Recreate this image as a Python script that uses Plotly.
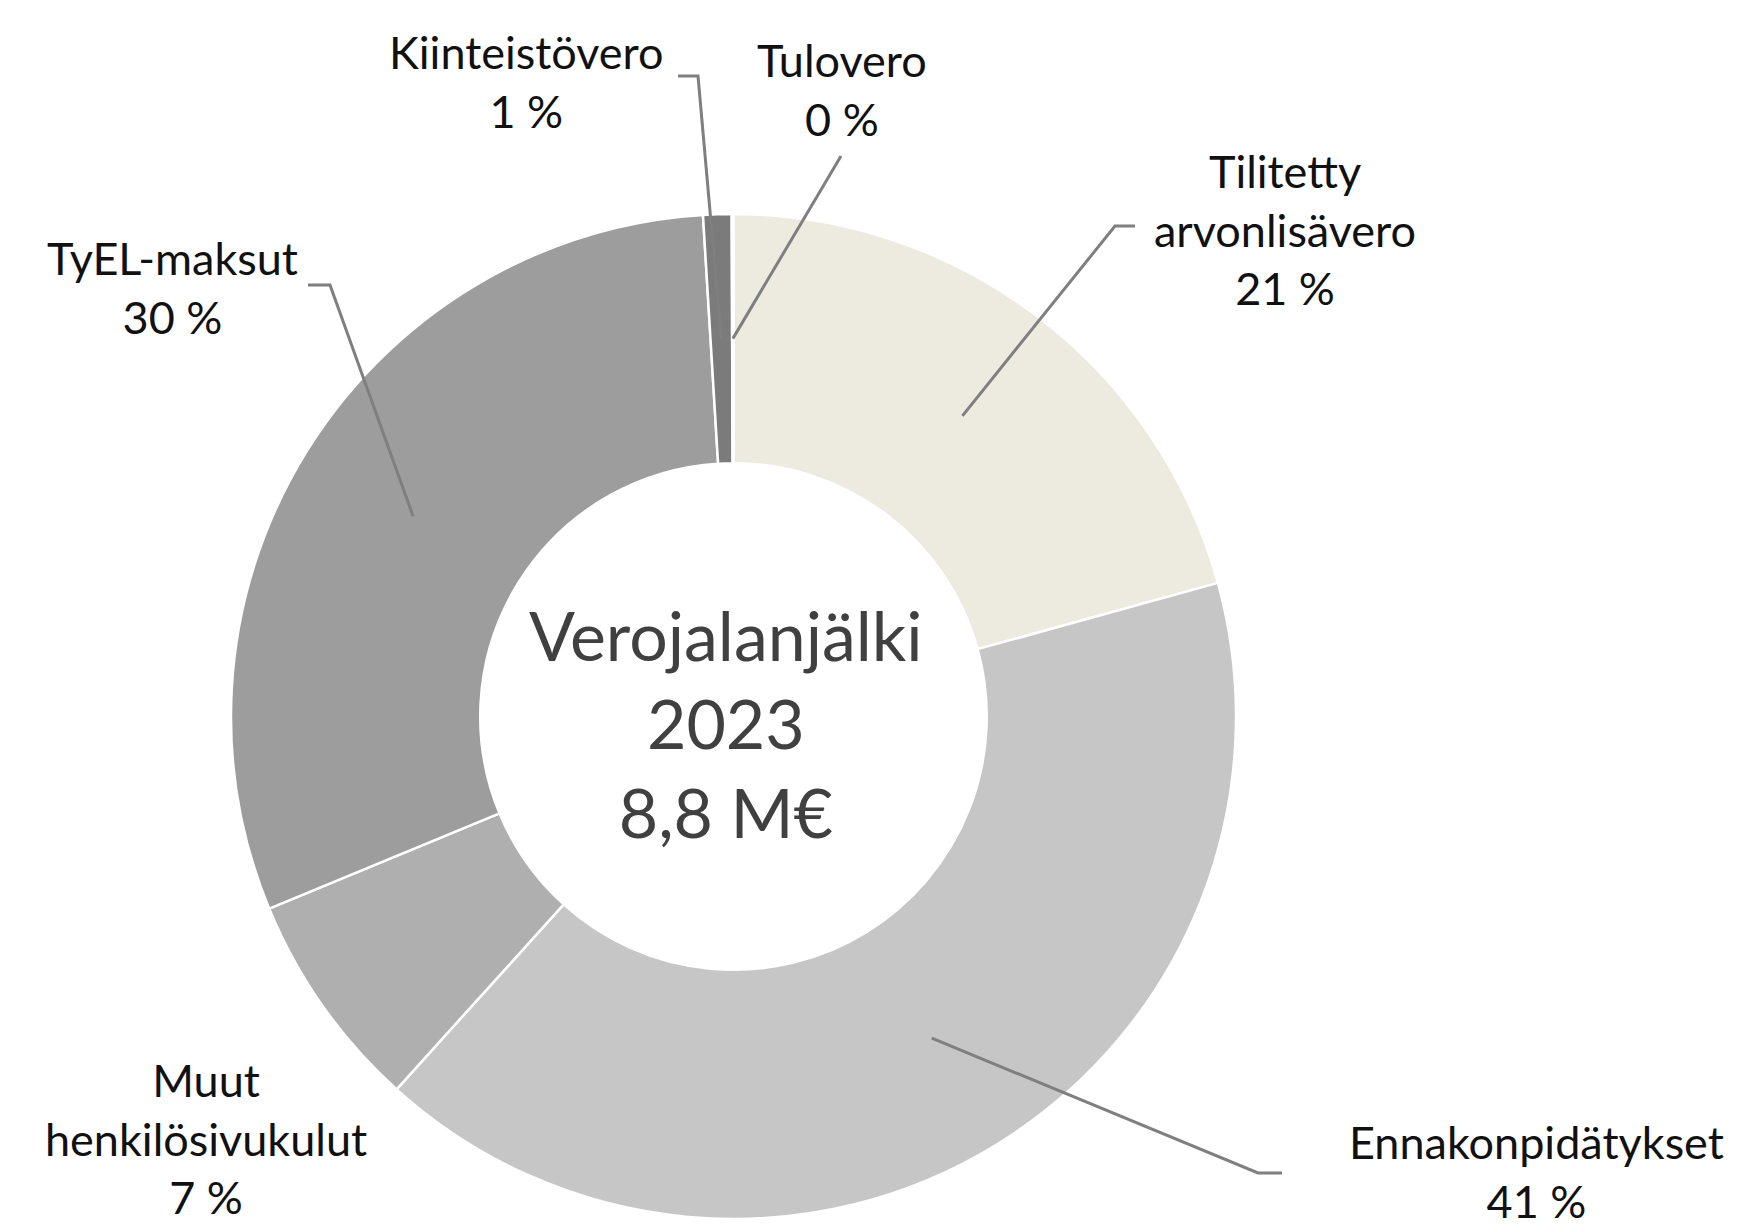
import math
import plotly.graph_objects as go

# data (M€), clockwise from 12 o'clock
categories = ["Tilitetty<br>arvonlisävero", "Ennakonpidätykset", "Muut<br>henkilösivukulut",
              "TyEL-maksut", "Kiinteistövero", "Tulovero"]
values = [1.82, 3.60, 0.62, 2.66, 0.08, 0.005]
colors = ["#EDEBE0", "#C6C6C6", "#AFAFAF", "#9D9D9D", "#7B7B7B", "#5A5A5A"]
center_title = ["Verojalanjälki", "2023"]

W, H = 1749, 1227
cx, cy, R = 733.5, 716.5, 502.5
hole = 0.504

# label placement in pixels: text centre, leader elbow, leader end (None = no line / straight)
label_pos = [(1285, 229), (1536, 1171), (206, 1138), (172, 288), (526, 81), (842, 89)]
elbows = [(1115, 226), (1258, 1173), None, (330, 285), (698, 76), None]
ends = [(1135, 226), (1282, 1173), None, (308, 285), (678, 76), (841, 156)]


def px(x, y):
    return x / W, 1 - y / H


total = sum(values)
fig = go.Figure()
fig.add_trace(go.Pie(
    labels=categories, values=values, sort=False, direction="clockwise", rotation=0,
    hole=hole, textinfo="none", hoverinfo="label+percent",
    marker=dict(colors=colors, line=dict(color="white", width=2.5)),
    domain=dict(x=[(cx - R) / W, (cx + R) / W], y=[1 - (cy + R) / H, 1 - (cy - R) / H]),
    showlegend=False,
))

annotations = []
shapes = []
cum = 0
rmid = R * (1 + hole) / 2
for name, v, pos, elb, end in zip(categories, values, label_pos, elbows, ends):
    pct = round(v / total * 100)
    ang = (cum + v / 2) / total * 2 * math.pi
    cum += v
    tx, ty = px(*pos)
    annotations.append(dict(x=tx, y=ty, xref="paper", yref="paper", showarrow=False,
                            text=f"{name}<br>{pct} %", align="center",
                            xanchor="center", yanchor="middle", borderpad=0,
                            font=dict(family="Lato", size=45, color="#111111")))
    if end is None:
        continue
    sx, sy = cx + rmid * math.sin(ang), cy - rmid * math.cos(ang)
    pts = [(sx, sy)] + ([elb] if elb else []) + [end]
    path = "M " + " L ".join("%.5f,%.5f" % px(x, y) for x, y in pts)
    shapes.append(dict(type="path", path=path, xref="paper", yref="paper",
                       line=dict(color="#7F7F7F", width=3)))

tx, ty = px(726, 723)
annotations.append(dict(x=tx, y=ty, xref="paper", yref="paper", showarrow=False,
                        text="<br>".join(center_title) + "<br>" + f"{total:.1f}".replace(".", ",") + " M€",
                        align="center", xanchor="center", yanchor="middle",
                        font=dict(family="Lato", size=68, color="#404040")))

fig.update_layout(
    width=W, height=H,
    margin=dict(l=0, r=0, t=0, b=0),
    paper_bgcolor="white", plot_bgcolor="white",
    annotations=annotations, shapes=shapes,
)

# body has a default 8px margin in the browser, drop it so the figure fills the window
fig.write_html("out.html", config={"displayModeBar": False},
               post_script="document.body.style.margin='0';")
